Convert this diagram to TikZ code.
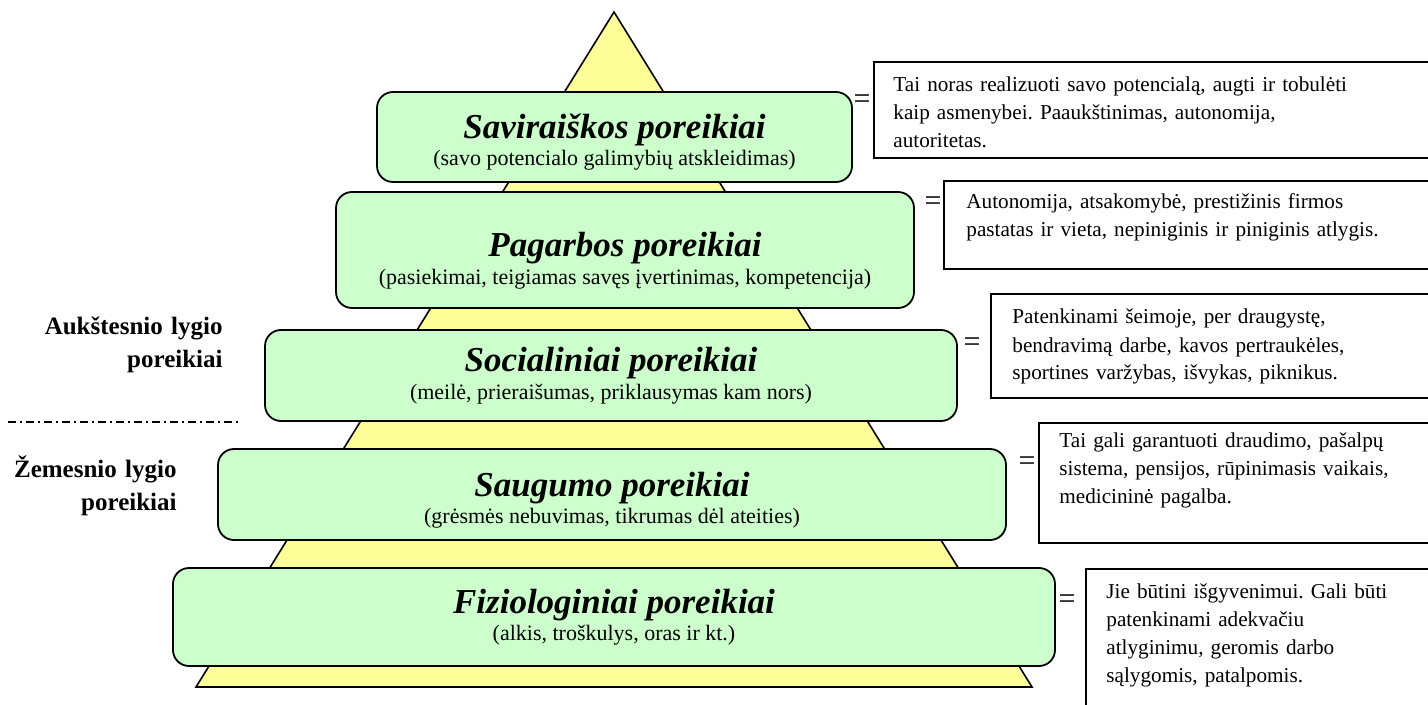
\documentclass[tikz,border=0pt]{standalone}
\usepackage{fontspec}
\setmainfont{Liberation Serif}
\definecolor{pyramidfill}{HTML}{FFFF99}
\definecolor{tierfill}{HTML}{CCFFCC}
\frenchspacing
\begin{document}
\begin{tikzpicture}[x=0.5pt,y=-0.5pt,
  tierbox/.style={draw=black, line width=0.9pt, fill=tierfill, rounded corners=8pt, inner sep=0pt},
  tiertitle/.style={anchor=base, inner sep=0pt, font=\fontsize{17.5}{20}\selectfont\bfseries\itshape},
  tiersub/.style={anchor=base, inner sep=0pt, font=\fontsize{11}{13}\selectfont},
  notebox/.style={draw=black, line width=0.8pt, fill=white, anchor=north west, inner sep=0pt},
  notetext/.style={anchor=base west, inner sep=0pt, text width=300pt, align=left, font=\fontsize{10.6}{14}\selectfont},
  eqsign/.style={inner sep=0pt, font=\fontsize{15}{15}\selectfont},
  levellabel/.style={anchor=base east, inner sep=0pt, text width=130pt, align=right, font=\fontsize{12.5}{16.5}\selectfont\bfseries}
]
\useasboundingbox (0,0) rectangle (1428,705);
\clip (0,0) rectangle (1428,705);

% pyramid behind the tiers
\coordinate (apex) at (614,12);
\coordinate (baseL) at (196,687);
\coordinate (baseR) at (1032,687);
\draw[line width=0.8pt, fill=pyramidfill] (apex) -- (baseR) -- (baseL) -- cycle;

% tiers of the pyramid
\node[tierbox, minimum width=237.5pt, minimum height=45pt] (g1) at (614.5,137) {};
\node[tierbox, minimum width=289pt,   minimum height=58pt] (g2) at (625,250) {};
\node[tierbox, minimum width=346pt,   minimum height=45.5pt] (g3) at (611,375.5) {};
\node[tierbox, minimum width=394pt,   minimum height=45.5pt] (g4) at (612,494.5) {};
\node[tierbox, minimum width=441pt,   minimum height=49pt] (g5) at (614,617) {};

\node[tiertitle] (t1) at (614.5,138.5) {Saviraiškos poreikiai};
\node[tiersub]   (s1) at (614.5,165.5) {(savo potencialo galimybių atskleidimas)};
\node[tiertitle] (t2) at (625,256.5) {Pagarbos poreikiai};
\node[tiersub]   (s2) at (625,284.5) {(pasiekimai, teigiamas savęs įvertinimas, kompetencija)};
\node[tiertitle] (t3) at (611,371.5) {Socialiniai poreikiai};
\node[tiersub]   (s3) at (611,399.5) {(meilė, prieraišumas, priklausymas kam nors)};
\node[tiertitle] (t4) at (612,496.5) {Saugumo poreikiai};
\node[tiersub]   (s4) at (612,523.5) {(grėsmės nebuvimas, tikrumas dėl ateities)};
\node[tiertitle] (t5) at (614,613.5) {Fiziologiniai poreikiai};
\node[tiersub]   (s5) at (614,640.5) {(alkis, troškulys, oras ir kt.)};

% explanation boxes
\node[notebox, minimum width=288.5pt, minimum height=48pt] (w1) at (873,61) {};
\node[notebox, minimum width=253.5pt, minimum height=44pt] (w2) at (943,180) {};
\node[notebox, minimum width=230pt,   minimum height=52pt] (w3) at (990,293) {};
\node[notebox, minimum width=206pt,   minimum height=60pt] (w4) at (1038,422) {};
\node[notebox, minimum width=182.5pt, minimum height=76pt] (w5) at (1085,568) {};

\node[notetext] (n1) at (893,92) {Tai noras realizuoti savo potencialą, augti ir tobulėti\\kaip asmenybei. Paaukštinimas, autonomija,\\autoritetas.};
\node[notetext] (n2) at (966,209) {Autonomija, atsakomybė, prestižinis firmos\\pastatas ir vieta, nepiniginis ir piniginis atlygis.};
\node[notetext] (n3) at (1012,324) {Patenkinami šeimoje, per draugystę,\\bendravimą darbe, kavos pertraukėles,\\sportines varžybas, išvykas, piknikus.};
\node[notetext] (n4) at (1059,447) {Tai gali garantuoti draudimo, pašalpų\\sistema, pensijos, rūpinimasis vaikais,\\medicininė pagalba.};
\node[notetext] (n5) at (1106,598) {Jie būtini išgyvenimui. Gali būti\\patenkinami adekvačiu\\atlyginimu, geromis darbo\\sąlygomis, patalpomis.};

% equality marks between tiers and explanations
\node[eqsign] (e1) at (862,102) {=};
\node[eqsign] (e2) at (933,204) {=};
\node[eqsign] (e3) at (972,345) {=};
\node[eqsign] (e4) at (1027,464) {=};
\node[eqsign] (e5) at (1067,602) {=};

% level labels and divider
\node[levellabel] (hi) at (223,335) {Aukštesnio lygio\\poreikiai};
\node[levellabel] (lo) at (177,477) {Žemesnio lygio\\poreikiai};
\coordinate (divL) at (8,422);
\coordinate (divR) at (238,422);
\draw[line width=0.6pt, dash pattern=on 4pt off 2pt on 1pt off 2pt] (divL) -- (divR);
\end{tikzpicture}
\end{document}
